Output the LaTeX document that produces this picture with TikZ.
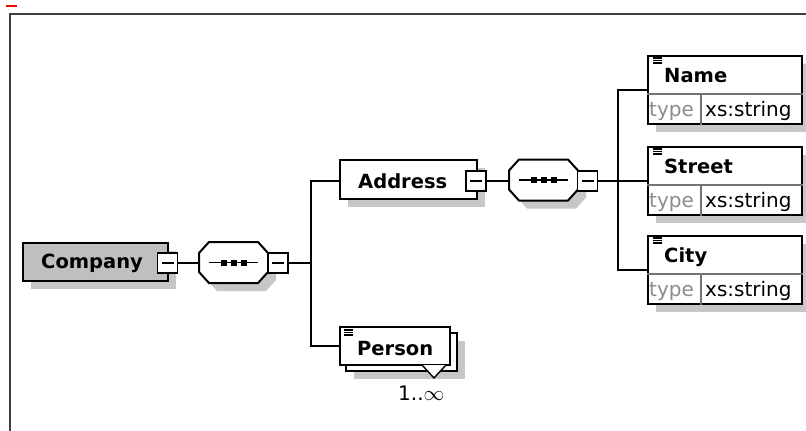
\documentclass[tikz,border=0pt]{standalone}
\usepackage{fontspec}
\setmainfont{DejaVu Sans}
\usetikzlibrary{calc,shadows}
\definecolor{shadowc}{gray}{0.78}
\definecolor{compfill}{gray}{0.75}
\definecolor{typec}{gray}{0.55}
\definecolor{divc}{gray}{0.45}
\definecolor{framec}{gray}{0.25}

% sequence compositor: octagon with shadow, a line and three dots
\newcommand\seqind[3]{%
  \begin{scope}[shift={(8,8)}]
    \fill[shadowc] (#2-24.5,#3-20.5) -- (#2+24.5,#3-20.5) -- (#2+34.5,#3-9.5) -- (#2+34.5,#3+9.5)
      -- (#2+24.5,#3+20.5) -- (#2-24.5,#3+20.5) -- (#2-34.5,#3+9.5) -- (#2-34.5,#3-9.5) -- cycle;
  \end{scope}
  \draw[line width=2pt, fill=white] (#2-24.5,#3-20.5) -- (#2+24.5,#3-20.5) -- (#2+34.5,#3-9.5) -- (#2+34.5,#3+9.5)
      -- (#2+24.5,#3+20.5) -- (#2-24.5,#3+20.5) -- (#2-34.5,#3+9.5) -- (#2-34.5,#3-9.5) -- cycle;
  \node[seqarea] (#1) at (#2,#3) {};
  \draw[line width=1.8pt] ($(#1.center)+(-24.5,0)$) -- ($(#1.center)+(24.5,0)$);
  \foreach \dx in {-10,0,10} \fill ($(#1.center)+(\dx-3,-3)$) rectangle +(6,6);
}

% "documentation" mark: three short strokes
\newcommand\docmark[2]{%
  \foreach \dy in {0,2.5,5} \draw[line width=1.1pt] (#1,#2+\dy) -- (#1+9,#2+\dy);
}

% element with a type row
\newcommand\elem[3]{%
  \node[box, sh, minimum width=154pt, minimum height=68pt] (#1) at (725,#2) {};
  \draw[divc, line width=1.2pt] ($(#1.north west)+(0,39)$) -- ($(#1.north east)+(0,39)$);
  \draw[divc, line width=1.2pt] ($(#1.north west)+(54,39)$) -- ($(#1.south west)+(54,0)$);
  \docmark{653}{#2-32}
  \node[boldtxt] (#1-label) at ($(#1.north west)+(17,27)$) {#3};
  \node[plaintxt, text=typec] (#1-type) at ($(#1.north west)+(2,61)$) {type};
  \node[plaintxt] (#1-value) at ($(#1.north west)+(58,61)$) {xs:string};
}

\begin{document}
\begin{tikzpicture}[x=1pt, y=-1pt,
  conn/.style={line width=2pt},
  sh/.style={drop shadow={shadow xshift=8pt, shadow yshift=-8pt, fill=shadowc, opacity=1}},
  box/.style={draw, line width=2pt, fill=white, inner sep=0pt, rectangle},
  seqarea/.style={rectangle, draw=none, minimum width=69pt, minimum height=41pt, inner sep=0pt},
  minusbox/.style={draw, line width=1.8pt, fill=white, minimum width=20pt, minimum height=20pt,
    inner sep=0pt,
    path picture={\draw[line width=1.8pt] ($(path picture bounding box.center)+(-6,0)$)
      -- ($(path picture bounding box.center)+(6,0)$);}},
  boldtxt/.style={font=\fontsize{19.5}{21}\selectfont\bfseries, inner sep=0pt, anchor=base west},
  plaintxt/.style={font=\fontsize{20}{22}\selectfont, inner sep=0pt, anchor=base west},
]
\useasboundingbox (0,0) rectangle (806,431);

% frame and corner mark
\draw[framec, line width=2.2pt] (10,431) -- (10,14) -- (806,14);
\draw[red, line width=2pt] (6,5.5) -- (17,5.5);

% Company
\node[box, sh, fill=compfill, minimum width=145pt, minimum height=38pt] (company) at (95.5,262) {};
\node[boldtxt] (company-label) at (41,268.5) {Company};
\node[minusbox] (cmin) at (167.5,263) {};

\seqind{seq1}{233.5}{262.5}
\node[minusbox] (smin1) at (278,263) {};
\coordinate (bus1) at (311,263);

% Address
\node[box, sh, minimum width=137pt, minimum height=39pt] (addr) at (408.5,179.5) {};
\node[boldtxt] (addr-label) at (358,188) {Address};
\node[minusbox] (amin) at (476,181) {};

\seqind{seq2}{543.5}{180}
\node[minusbox] (smin2) at (587.5,181) {};
\coordinate (bus2) at (618,181);

% Person (repeated element)
\node[box, sh, minimum width=111pt, minimum height=38pt] (persb) at (401.5,352) {};
\node[box, minimum width=110pt, minimum height=38pt] (pers) at (395,346) {};
\docmark{344}{330}
\node[boldtxt] (pers-label) at (357,355) {Person};
\filldraw[fill=white, line width=1.4pt] (422,365) -- (434,378) -- (446,365);
\node[plaintxt] (pers-card) at (398,400) {1..$\infty$};

% children of Address
\elem{name}{90}{Name}
\elem{street}{181}{Street}
\elem{city}{270}{City}

% connectors
\draw[conn] (cmin.east) -- (cmin.east -| seq1.west);
\draw[conn] (smin1.east) -- (bus1);
\draw[conn] (amin.west -| addr.west) -| (bus1) |- (pers.west);
\draw[conn] (amin.east) -- (amin.east -| seq2.west);
\draw[conn] (smin2.east) -- (bus2);
\draw[conn] (name.west) -| (bus2) |- (city.west);
\draw[conn] (bus2) -- (street.west);
\end{tikzpicture}
\end{document}
